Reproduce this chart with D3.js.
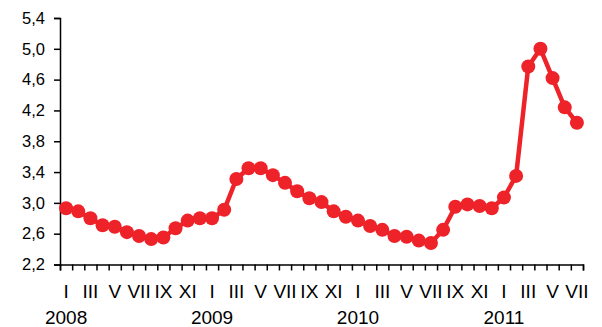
<!DOCTYPE html>
<html>
<head>
<meta charset="utf-8">
<script src="https://cdn.jsdelivr.net/npm/d3@7"></script>
<style>
  body { margin: 0; background: #fff; }
  svg { display: block; }
</style>
</head>
<body>
<div id="chart"></div>
<script>
// monthly values, Jan 2008 - Jul 2011
var values2008 = [2.93, 2.89, 2.80, 2.71, 2.69, 2.62, 2.57, 2.53, 2.55, 2.67, 2.77, 2.80];
var values2009 = [2.80, 2.91, 3.31, 3.45, 3.45, 3.36, 3.26, 3.15, 3.06, 3.01, 2.89, 2.82];
var values2010 = [2.77, 2.70, 2.65, 2.57, 2.56, 2.51, 2.48, 2.65, 2.95, 2.98, 2.96, 2.93];
var values2011 = [3.07, 3.35, 4.77, 5.00, 4.62, 4.24, 4.04];

var years = ["2008", "2009", "2010", "2011"];
var monthLabels = ["I", "", "III", "", "V", "", "VII", "", "IX", "", "XI", ""];
var yTicks = [2.2, 2.6, 3.0, 3.4, 3.8, 4.2, 4.6, 5.0, 5.4];

var svgWidth = 602;
var svgHeight = 327;

var chartMargin = { top: 18, bottom: 62.5, left: 60, right: 19 };
var chartWidth = svgWidth - chartMargin.left - chartMargin.right;
var chartHeight = svgHeight - chartMargin.top - chartMargin.bottom;

var red = "#ee2229";

// flatten the series
var data = [];
[values2008, values2009, values2010, values2011].forEach(function(arr, yi) {
  arr.forEach(function(v, mi) {
    data.push({ i: data.length, year: years[yi], month: mi, value: v });
  });
});

var svg = d3.select("#chart")
  .append("svg")
  .attr("width", svgWidth)
  .attr("height", svgHeight);

var chartGroup = svg.append("g")
  .attr("transform", `translate(${chartMargin.left}, ${chartMargin.top})`);

var xScale = d3.scaleLinear()
  .domain([0, data.length])
  .range([0, chartWidth]);

var yScale = d3.scaleLinear()
  .domain([2.2, 5.4])
  .range([chartHeight, 0]);

var fmt = d3.format(".1f");

// y axis
var yAxis = d3.axisLeft(yScale)
  .tickValues(yTicks)
  .tickSize(6)
  .tickPadding(9)
  .tickFormat(d => fmt(d).replace(".", ","));

var yG = chartGroup.append("g").call(yAxis);
yG.selectAll("text")
  .attr("font-family", "Liberation Sans, Arial, sans-serif")
  .attr("font-size", "16.5px")
  .attr("fill", "#000");

// x axis: ticks at month boundaries
var xAxis = d3.axisBottom(xScale)
  .tickValues(d3.range(data.length + 1))
  .tickSize(6)
  .tickFormat("");

chartGroup.append("g")
  .attr("transform", `translate(0, ${chartHeight})`)
  .call(xAxis);

chartGroup.selectAll(".domain, .tick line")
  .attr("stroke", "#000")
  .attr("stroke-width", 1.5);

// month labels
chartGroup.selectAll(".mlab")
  .data(data.filter(d => monthLabels[d.month] !== ""))
  .enter()
  .append("text")
  .attr("class", "mlab")
  .attr("x", d => xScale(d.i + 0.5))
  .attr("y", chartHeight + 33)
  .attr("text-anchor", "middle")
  .attr("font-family", "Liberation Sans, Arial, sans-serif")
  .attr("font-size", "19px")
  .text(d => monthLabels[d.month]);

// year labels under January
chartGroup.selectAll(".ylab")
  .data(data.filter(d => d.month === 0))
  .enter()
  .append("text")
  .attr("class", "ylab")
  .attr("x", d => xScale(d.i + 0.5))
  .attr("y", chartHeight + 59)
  .attr("text-anchor", "middle")
  .attr("font-family", "Liberation Sans, Arial, sans-serif")
  .attr("font-size", "19px")
  .text(d => d.year);

// line
var line = d3.line()
  .x(d => xScale(d.i + 0.5))
  .y(d => yScale(d.value));

chartGroup.append("path")
  .datum(data)
  .attr("d", line)
  .attr("fill", "none")
  .attr("stroke", red)
  .attr("stroke-width", 4.5)
  .attr("stroke-linejoin", "round");

chartGroup.selectAll("circle")
  .data(data)
  .enter()
  .append("circle")
  .attr("cx", d => xScale(d.i + 0.5))
  .attr("cy", d => yScale(d.value))
  .attr("r", 7)
  .style("fill", red);
</script>
</body>
</html>
